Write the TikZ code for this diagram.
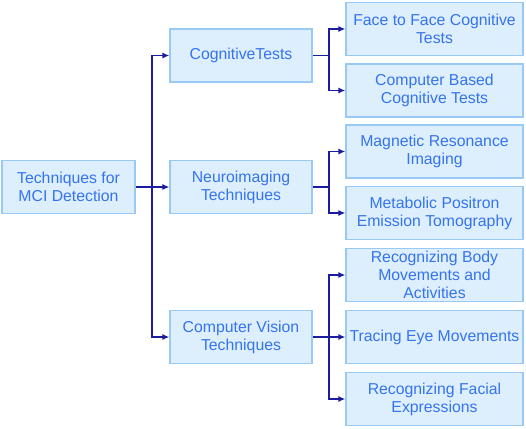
\documentclass[tikz,border=0pt]{standalone}
\usepackage{fontspec}
\setmainfont{Liberation Sans}
\usetikzlibrary{arrows.meta}
\definecolor{boxfill}{HTML}{DDEEFC}
\definecolor{boxline}{HTML}{99C9F5}
\definecolor{txt}{HTML}{3574EE}
\definecolor{arr}{HTML}{1C1CA0}
\tikzset{
  box/.style={draw=boxline, line width=1.2pt, fill=boxfill, text=txt, align=center,
    font=\fontsize{15.8}{18}\selectfont, inner sep=0pt, minimum width=#1, minimum height=53pt},
  box/.default=142pt,
  conn/.style={draw=arr, line width=1.4pt, -{Latex[length=7pt,width=6pt]}},
  line/.style={draw=arr, line width=1.4pt}
}
\begin{document}
\begin{tikzpicture}[x=1pt,y=-1pt]
\useasboundingbox (0,0) rectangle (526,428);
\node[box=133pt] (root) at (68.5,187) {Techniques for\\MCI Detection};
\node[box] (cog) at (241,55.5) {CognitiveTests};
\node[box] (neuro) at (241,187) {Neuroimaging\\Techniques};
\node[box] (cv) at (241,337) {Computer Vision\\Techniques};
\node[box=177pt] (f2f) at (434.5,29) {Face to Face Cognitive\\Tests};
\node[box=177pt] (cbt) at (434.5,90.5) {Computer Based\\Cognitive Tests};
\node[box=177pt] (mri) at (434.5,151.5) {Magnetic Resonance\\Imaging};
\node[box=177pt] (pet) at (434.5,213) {Metabolic Positron\\Emission Tomography};
\node[box=177pt] (body) at (434.5,275) {Recognizing Body\\Movements and\\Activities};
\node[box=177pt] (eye) at (434.5,337) {Tracing Eye Movements};
\node[box=177pt] (face) at (434.5,399) {Recognizing Facial\\Expressions};
\coordinate (t) at (152,187);
\draw[conn] (root) -- (neuro);
\draw[conn] (t) |- (cog);
\draw[conn] (t) |- (cv);
\coordinate (b1) at (329,55.5);
\coordinate (b2) at (329,187);
\coordinate (b3) at (329,337);
\draw[line] (cog.east) -- (b1);
\draw[conn] (b1) |- (f2f);
\draw[conn] (b1) |- (cbt);
\draw[line] (neuro.east) -- (b2);
\draw[conn] (b2) |- (mri);
\draw[conn] (b2) |- (pet);
\draw[conn] (cv) -- (eye);
\draw[conn] (b3) |- (body);
\draw[conn] (b3) |- (face);
\end{tikzpicture}
\end{document}
